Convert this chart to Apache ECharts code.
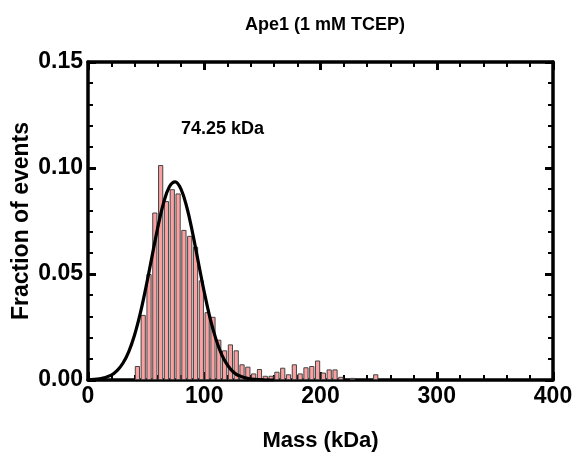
<!DOCTYPE html>
<html>
<head>
  <meta charset="utf-8">
  <script src="https://cdn.jsdelivr.net/npm/echarts@6/dist/echarts.min.js"></script>
  <style>
    html, body { margin: 0; padding: 0; background: #fff; }
    #chart { width: 577px; height: 463px; }
  </style>
</head>
<body>
  <div id="chart"></div>
  <script>
    // Histogram bins (5 kDa wide, centre of bin) and fraction of events
    const binCenters = [
      42.5, 47.5, 52.5, 57.5, 62.5, 67.5, 72.5, 77.5, 82.5, 87.5,
      92.5, 97.5, 102.5, 107.5, 112.5, 117.5, 122.5, 127.5, 132.5, 137.5,
      142.5, 147.5, 152.5, 157.5, 162.5, 167.5, 172.5, 177.5, 182.5, 187.5,
      192.5, 197.5, 202.5, 207.5, 212.5, 217.5, 227.5, 247.5
    ];
    const fractions = [
      0.0066, 0.0307, 0.050, 0.079, 0.1014, 0.0844, 0.090, 0.088, 0.0708, 0.068,
      0.0629, 0.047, 0.032, 0.0298, 0.019, 0.014, 0.0168, 0.014, 0.0074, 0.0063,
      0.0031, 0.0052, 0.002, 0.002, 0.0039, 0.0058, 0.0027, 0.0074, 0.0031, 0.006,
      0.0066, 0.0092, 0.0035, 0.005, 0.005, 0.0015, 0.001, 0.0027
    ];

    // Gaussian fit curve
    const fitMass = [
      0, 10, 20, 25, 30, 35, 40, 45, 50, 55, 60, 65, 70, 75, 80, 85, 90,
      95, 100, 105, 110, 115, 120, 125, 130, 140, 150, 160
    ];
    const fitFraction = [
      0.0001, 0.0005, 0.0023, 0.0044, 0.0079, 0.0133, 0.0211, 0.0315, 0.0442, 0.0581,
      0.0719, 0.0835, 0.0912, 0.0935, 0.090, 0.0815, 0.0693, 0.0553, 0.0415, 0.0292,
      0.0194, 0.0120, 0.0070, 0.0038, 0.0020, 0.0004, 0.0001, 0
    ];

    const xTicks = { min: 0, max: 400, interval: 100 };
    const yTicks = { min: 0, max: 0.15, interval: 0.05 };
    const peakLabel = '74.25 kDa';

    const font = '"Liberation Sans", Arial, sans-serif';

    const chart = echarts.init(document.getElementById('chart'));

    const axisLine = { show: true, onZero: false, lineStyle: { color: '#000', width: 3.5 } };
    const axisTick = { show: true, inside: true, length: 8, lineStyle: { color: '#000', width: 3 } };
    const minorTick = { show: true, splitNumber: 5, length: 5, lineStyle: { color: '#000', width: 2 } };

    const option = {
      animation: false,
      backgroundColor: '#fff',
      title: {
        text: 'Ape1 (1 mM TCEP)',
        left: 320,
        top: 11,
        textAlign: 'center',
        textStyle: { fontFamily: font, fontWeight: 'bold', fontSize: 18, color: '#000' }
      },
      grid: { left: 88, right: 24, top: 62, bottom: 83, outerBoundsMode: 'none' },
      xAxis: [
        {
          type: 'value',
          min: xTicks.min, max: xTicks.max, interval: xTicks.interval,
          name: 'Mass (kDa)',
          nameLocation: 'middle',
          nameGap: 50,
          nameMoveOverlap: false,
          nameTextStyle: { fontFamily: font, fontWeight: 'bold', fontSize: 22, color: '#000' },
          axisLine: axisLine,
          axisTick: axisTick,
          minorTick: minorTick,
          splitLine: { show: false },
          axisLabel: { fontFamily: font, fontWeight: 'bold', fontSize: 23, color: '#000', margin: 5 }
        },
        {
          type: 'value', position: 'top',
          min: xTicks.min, max: xTicks.max, interval: xTicks.interval,
          axisLine: axisLine,
          axisTick: axisTick,
          minorTick: minorTick,
          splitLine: { show: false },
          axisLabel: { show: false }
        }
      ],
      yAxis: [
        {
          type: 'value',
          min: yTicks.min, max: yTicks.max, interval: yTicks.interval,
          name: 'Fraction of events',
          nameLocation: 'middle',
          nameGap: 55,
          nameMoveOverlap: false,
          nameTextStyle: { fontFamily: font, fontWeight: 'bold', fontSize: 23, color: '#000' },
          axisLine: axisLine,
          axisTick: axisTick,
          minorTick: minorTick,
          splitLine: { show: false },
          axisLabel: {
            fontFamily: font, fontWeight: 'bold', fontSize: 23, color: '#000', margin: 5,
            formatter: v => v.toFixed(2)
          }
        },
        {
          type: 'value', position: 'right',
          min: yTicks.min, max: yTicks.max, interval: yTicks.interval,
          axisLine: axisLine,
          axisTick: axisTick,
          minorTick: minorTick,
          splitLine: { show: false },
          axisLabel: { show: false }
        }
      ],
      graphic: [
        {
          type: 'text',
          left: 181,
          top: 120,
          style: {
            text: peakLabel,
            fontFamily: font, fontWeight: 'bold', fontSize: 18, fill: '#000'
          }
        }
      ],
      series: [
        {
          type: 'bar',
          xAxisIndex: 0, yAxisIndex: 0,
          barWidth: 5.2,
          itemStyle: { color: '#fba0a0', borderColor: '#444', borderWidth: 1 },
          data: binCenters.map((m, i) => [m, fractions[i]]),
          z: 2
        },
        {
          type: 'line',
          xAxisIndex: 0, yAxisIndex: 0,
          smooth: 0.4,
          showSymbol: false,
          lineStyle: { color: '#000', width: 3.2 },
          data: fitMass.map((m, i) => [m, fitFraction[i]]),
          z: 3
        }
      ]
    };

    chart.setOption(option);
    window.addEventListener('resize', chart.resize);
  </script>
</body>
</html>
